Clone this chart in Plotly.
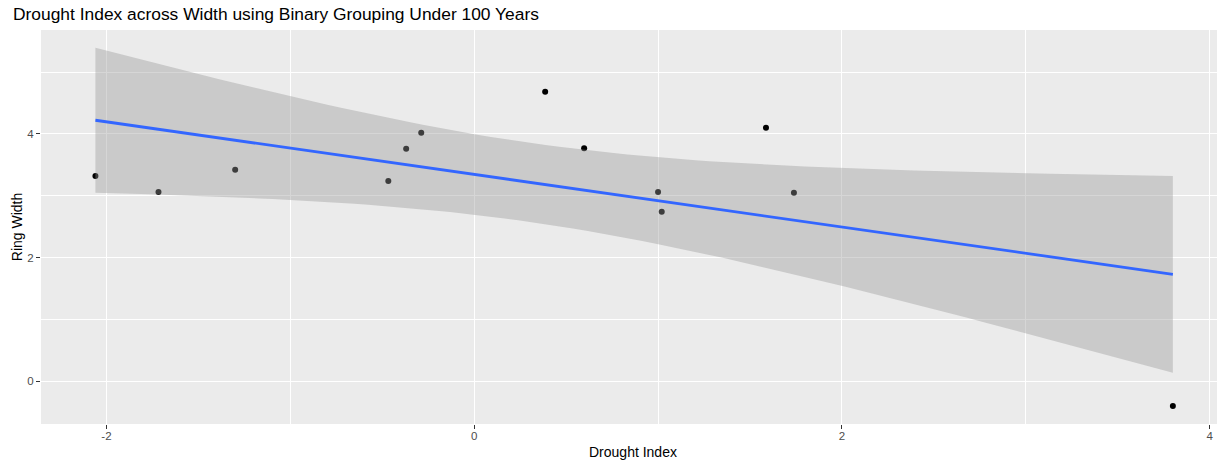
import numpy as np
import plotly.graph_objects as go

drought_index = [-2.06, -1.717, -1.30, -0.467, -0.37, -0.288, 0.386, 0.598, 1.0, 1.02, 1.587, 1.739, 3.80]
ring_width = [3.32, 3.06, 3.42, 3.24, 3.76, 4.02, 4.68, 3.77, 3.06, 2.74, 4.10, 3.05, -0.40]
x_ticks = [-2, 0, 2, 4]
y_ticks = [0, 2, 4]
title_text = "Drought Index across Width using Binary Grouping Under 100 Years"
x_title = "Drought Index"
y_title = "Ring Width"

x = np.array(drought_index)
y = np.array(ring_width)
n = len(x)
slope, intercept = np.polyfit(x, y, 1)
resid = y - (intercept + slope * x)
s = np.sqrt(np.sum(resid ** 2) / (n - 2))
xm = x.mean()
sxx = np.sum((x - xm) ** 2)
t_crit = 2.200985  # t(0.975, df=11)
xs = np.linspace(x.min(), x.max(), 80)
fit = intercept + slope * xs
se = s * np.sqrt(1 / n + (xs - xm) ** 2 / sxx)
upper = fit + t_crit * se
lower = fit - t_crit * se

fig = go.Figure()
fig.add_trace(go.Scatter(x=drought_index, y=ring_width, mode="markers",
                         marker=dict(color="black", size=6), hoverinfo="skip"))
fig.add_trace(go.Scatter(x=np.concatenate([xs, xs[::-1]]), y=np.concatenate([upper, lower[::-1]]),
                         fill="toself", fillcolor="rgba(153,153,153,0.4)", line=dict(width=0),
                         mode="lines", hoverinfo="skip"))
fig.add_trace(go.Scatter(x=xs, y=fit, mode="lines", line=dict(color="#3366FF", width=2.8),
                         hoverinfo="skip"))

font = "Liberation Sans, Arial, sans-serif"
axis_common = dict(showline=False, zeroline=False, gridcolor="white", gridwidth=1.1,
                   ticks="outside", ticklen=4, tickcolor="#333333", tickwidth=1,
                   tickfont=dict(family=font, size=11.5, color="#4D4D4D"))
fig.update_layout(
    width=1217, height=460,
    margin=dict(l=41, r=0, t=30, b=36),
    paper_bgcolor="white", plot_bgcolor="#EBEBEB",
    showlegend=False,
    title=dict(text=title_text, xref="container", x=13 / 1217, xanchor="left",
               yref="container", y=1 - 14 / 460, yanchor="middle",
               font=dict(family=font, size=17.4, color="black")),
    xaxis=dict(range=[-2.356, 4.04], tickvals=x_ticks, ticktext=[str(v) for v in x_ticks],
               minor=dict(tickvals=[-1, 1, 3], showgrid=True, gridcolor="white", gridwidth=0.5, ticks=""),
               ticklabelstandoff=-3,
               **axis_common),
    yaxis=dict(range=[-0.69, 5.68], tickvals=y_ticks, ticktext=[str(v) for v in y_ticks],
               minor=dict(tickvals=[1, 3, 5], showgrid=True, gridcolor="white", gridwidth=0.5, ticks=""),
               title=dict(text=y_title, font=dict(family=font, size=14, color="black"), standoff=1),
               **axis_common),
    annotations=[dict(text=x_title, xref="paper", yref="paper",
                      x=(633 - 41) / (1217 - 41), y=-(452 - 424) / (460 - 30 - 36),
                      xanchor="center", yanchor="middle", showarrow=False,
                      font=dict(family=font, size=14, color="black"))],
)
fig.write_html("out.html")
